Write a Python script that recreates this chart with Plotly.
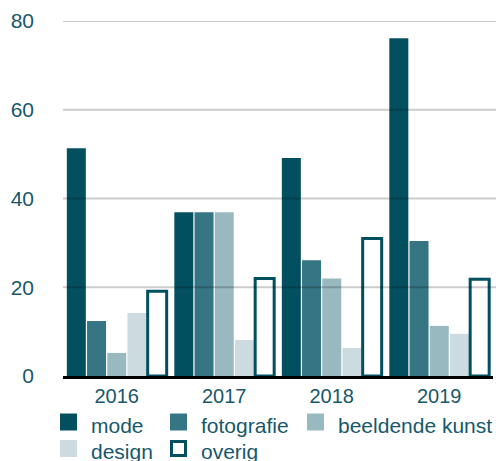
import plotly.graph_objects as go

years = ["2016", "2017", "2018", "2019"]
mode = [51.3, 36.9, 49.1, 76.1]
fotografie = [12.4, 36.9, 26.1, 30.4]
beeldende_kunst = [5.2, 36.9, 22.0, 11.3]
design = [14.2, 8.1, 6.3, 9.5]
overig = [19.1, 22.0, 31.0, 21.8]
y_ticks = [0, 20, 40, 60, 80]

series = [
    ("mode", mode, "#02505f", None),
    ("fotografie", fotografie, "#367684", None),
    ("beeldende kunst", beeldende_kunst, "#99b9c1", None),
    ("design", design, "#ccdbe0", None),
    ("overig", overig, "#ffffff", "#02505f"),
]

text_color = "#17586a"
font_family = "Liberation Sans, Arial, sans-serif"

W, H = 496, 461
ML, MR, MT, MB = 63, 3, 21, 85
PW, PH = W - ML - MR, H - MT - MB


def px(x):
    return (x - ML) / PW


def py(y):
    return (H - MB - y) / PH


fig = go.Figure()
for name, vals, color, line in series:
    marker = dict(color=color)
    if line:
        marker["line"] = dict(color=line, width=3)
    else:
        marker["line"] = dict(width=0)
    fig.add_trace(go.Bar(name=name, x=years, y=vals, marker=marker, showlegend=False))

shapes = []
# gridlines drawn above the bars, as in the reference
for t in y_ticks[1:]:
    shapes.append(dict(type="line", xref="paper", yref="y", x0=0, x1=px(W), y0=t, y1=t,
                       line=dict(color="rgba(0,0,0,0.2)", width=2), layer="above"))

# custom legend (larger squares like the reference)
legend_pos = [(60, 422), (170, 422), (307, 422), (60, 448.5), (170, 448.5)]
annotations = []
for (name, vals, color, line), (lx, ly) in zip(series, legend_pos):
    if line:
        shapes.append(dict(type="rect", xref="paper", yref="paper",
                           x0=px(lx + 1.5), x1=px(lx + 15.5), y0=py(ly - 7), y1=py(ly + 7),
                           fillcolor=color, line=dict(color=line, width=3)))
    else:
        shapes.append(dict(type="rect", xref="paper", yref="paper",
                           x0=px(lx), x1=px(lx + 17), y0=py(ly - 8.5), y1=py(ly + 8.5),
                           fillcolor=color, line=dict(width=0)))
    annotations.append(dict(text=name, xref="paper", yref="paper",
                            x=px(lx + 29), y=py(ly + 3), xanchor="left", yanchor="middle",
                            showarrow=False, font=dict(size=21, color=text_color)))

fig.update_layout(
    width=W,
    height=H,
    margin=dict(l=ML, r=MR, t=MT, b=MB, autoexpand=False),
    barmode="group",
    bargap=0.06,
    bargroupgap=0.06,
    plot_bgcolor="white",
    paper_bgcolor="white",
    font=dict(family=font_family, size=20, color=text_color),
    showlegend=False,
    shapes=shapes,
    annotations=annotations,
    xaxis=dict(
        automargin=False,
        showline=True,
        linecolor="black",
        linewidth=3,
        ticks="",
        showgrid=False,
        layer="above traces",
        tickfont=dict(size=20, color=text_color),
    ),
    yaxis=dict(
        automargin=False,
        range=[0, 80],
        tickvals=y_ticks,
        showgrid=False,
        zeroline=False,
        showline=False,
        ticks="",
        ticklabelstandoff=28,
        tickfont=dict(size=21, color=text_color),
    ),
)

fig.write_html(
    "out.html",
    config={"displayModeBar": False},
    post_script="document.body.style.margin='0';document.body.style.overflow='hidden';",
)
